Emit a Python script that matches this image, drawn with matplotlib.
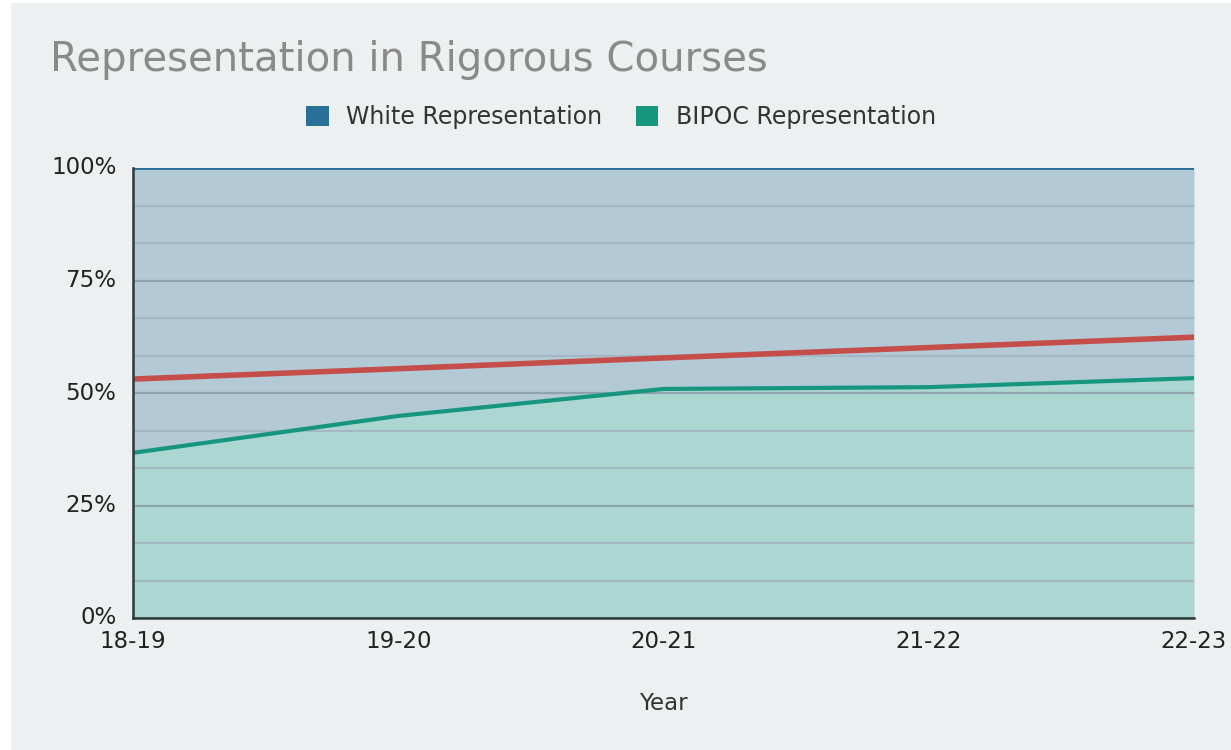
import matplotlib
matplotlib.use("Agg")
import matplotlib.pyplot as plt
from matplotlib.patches import Rectangle, Patch
import numpy as np

plt.rcParams["font.family"] = ["DejaVu Sans"]

years = ["18-19", "19-20", "20-21", "21-22", "22-23"]
bipoc = [36.7, 44.9, 50.9, 51.3, 53.3]
white_total = [100, 100, 100, 100, 100]
target = [53.1, 55.4, 57.8, 60.1, 62.4]

W, H = 1231, 750
fig = plt.figure(figsize=(W / 100, H / 100), dpi=100)
fig.patch.set_facecolor("white")
bg = "#ecf0f1"
fig.patches.append(Rectangle((11 / W, 0), 1 - 11 / W, 1 - 3 / H, transform=fig.transFigure,
                             facecolor=bg, edgecolor="none", zorder=-10))

ax = fig.add_axes([133 / W, 1 - 618 / H, (1194 - 133) / W, (618 - 168) / H])
ax.set_facecolor("none")
x = np.arange(len(years))

ax.fill_between(x, bipoc, white_total, color="#b4c9d6", zorder=1, linewidth=0)
ax.fill_between(x, 0, bipoc, color="#acd6d1", zorder=1, linewidth=0)

for v in np.arange(0, 101, 100 / 12):
    major = abs((v / 25) - round(v / 25)) < 1e-6
    ax.axhline(v, color="#8fa3ad" if major else "#a3b8c2", lw=1.6, zorder=2)

ax.plot(x, white_total, color="#2a6f97", lw=2, zorder=3)
ax.plot(x, bipoc, color="#16967f", lw=3, zorder=3)
ax.plot(x, target, color="#c44e4a", lw=4, zorder=4)

ax.set_xlim(0, len(years) - 1)
ax.set_ylim(0, 100)
ax.set_xticks(x)
ax.set_xticklabels(years)
ax.set_yticks([0, 25, 50, 75, 100])
ax.set_yticklabels(["0%", "25%", "50%", "75%", "100%"])
ax.tick_params(axis="both", length=0, labelsize=16.5, colors="#222222")
ax.tick_params(axis="x", pad=9)
ax.tick_params(axis="y", pad=12)
for lbl in ax.get_yticklabels():
    lbl.set_verticalalignment("center")

for s in ["top", "right"]:
    ax.spines[s].set_visible(False)
for s in ["left", "bottom"]:
    ax.spines[s].set_color("#2b3a3a")
    ax.spines[s].set_linewidth(1.8)
    ax.spines[s].set_zorder(5)

ax.set_xlabel("Year", fontsize=16.5, color="#333333", labelpad=28)

fig.text(50 / W, 1 - 60 / H, "Representation in Rigorous Courses", fontsize=29,
         color="#8a8a8a", va="center", ha="left")

handles = [Patch(facecolor="#2a6f97", edgecolor="none", label="White Representation"),
           Patch(facecolor="#16967f", edgecolor="none", label="BIPOC Representation")]
fig.legend(handles=handles, loc="center", bbox_to_anchor=(621 / W, 1 - 117 / H), ncol=2,
           frameon=False, fontsize=17, handlelength=0.95, handleheight=0.95,
           handletextpad=0.75, columnspacing=1.4, labelcolor="#333333")

fig.savefig("out.png", dpi=100, facecolor=fig.get_facecolor())
